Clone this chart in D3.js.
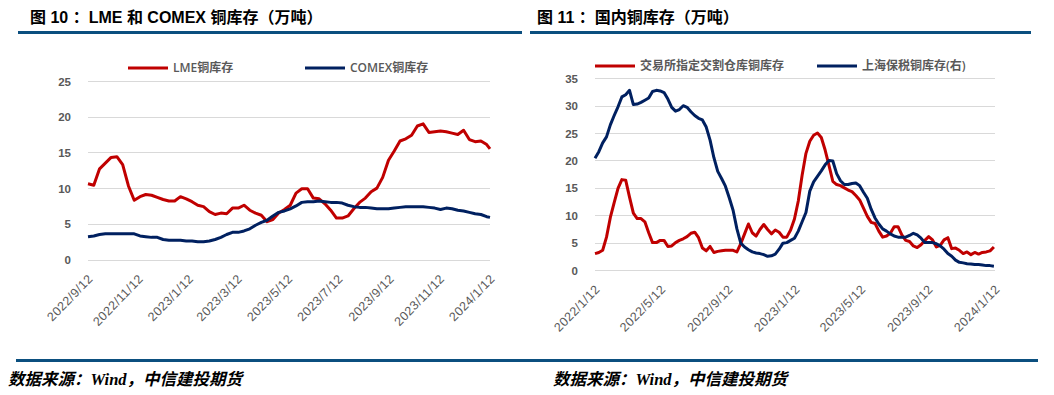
<!DOCTYPE html>
<html lang="zh-CN">
<head>
<meta charset="UTF-8">
<title>铜库存</title>
<script src="https://d3js.org/d3.v7.min.js"></script>
<style>
    body { margin: 0; background: #fff; }
    svg { display: block; font-family: "Open Sans", "Noto Sans CJK SC", sans-serif; }
    .title { font-family: "Liberation Sans", "Noto Sans CJK SC", sans-serif; font-weight: bold; font-size: 16px; fill: #000; }
    .axis text { fill: #595959; font-size: 11.5px; font-weight: 600; }
    .xaxis text { font-size: 12.5px; font-weight: 400; letter-spacing: 0.4px; }
    .legend text { fill: #595959; font-size: 12px; font-weight: 600; }
    .grid line { stroke: #d9d9d9; stroke-width: 1; }
    .source { font-family: "Liberation Serif", "Noto Sans CJK SC", serif; font-weight: bold; font-style: italic; font-size: 16.5px; fill: #000; }
</style>
</head>
<body>
<script>
    // 图10: LME / COMEX weekly
    const leftDates = [
        "2022-09-12","2022-09-19","2022-09-26","2022-10-03","2022-10-10","2022-10-17","2022-10-24","2022-10-31",
        "2022-11-07","2022-11-14","2022-11-21","2022-11-28","2022-12-05","2022-12-12","2022-12-19","2022-12-26",
        "2023-01-02","2023-01-09","2023-01-16","2023-01-23","2023-01-30","2023-02-06","2023-02-13","2023-02-20",
        "2023-02-27","2023-03-06","2023-03-13","2023-03-20","2023-03-27","2023-04-03","2023-04-10","2023-04-17",
        "2023-04-24","2023-05-01","2023-05-08","2023-05-15","2023-05-22","2023-05-29","2023-06-05","2023-06-12",
        "2023-06-19","2023-06-26","2023-07-03","2023-07-10","2023-07-17","2023-07-24","2023-07-31","2023-08-07",
        "2023-08-14","2023-08-21","2023-08-28","2023-09-04","2023-09-11","2023-09-18","2023-09-25","2023-10-02",
        "2023-10-09","2023-10-16","2023-10-23","2023-10-30","2023-11-06","2023-11-13","2023-11-20","2023-11-27",
        "2023-12-04","2023-12-11","2023-12-18","2023-12-25","2024-01-01","2024-01-08","2024-01-12"
    ];
    const lmeStocks = [
        10.6, 10.4, 12.7, 13.5, 14.3, 14.4, 13.3, 10.3,
        8.3, 8.8, 9.1, 9.0, 8.7, 8.4, 8.2, 8.2,
        8.8, 8.5, 8.1, 7.6, 7.4, 6.7, 6.3, 6.5,
        6.4, 7.2, 7.2, 7.6, 6.9, 6.5, 6.2, 5.3,
        5.6, 6.5, 7.0, 7.6, 9.3, 9.9, 9.9, 8.6,
        8.5, 7.8, 6.9, 5.8, 5.8, 6.1, 7.1, 8.0,
        8.6, 9.5, 10.0, 11.5, 13.9, 15.2, 16.6, 16.9,
        17.4, 18.7, 19.0, 17.8, 17.9, 18.0, 17.9, 17.7,
        17.5, 18.1, 16.8, 16.5, 16.6, 16.1, 15.5
    ];
    const comexStocks = [
        3.2, 3.3, 3.5, 3.6, 3.6, 3.6, 3.6, 3.6,
        3.6, 3.3, 3.2, 3.1, 3.1, 2.8, 2.7, 2.7,
        2.7, 2.6, 2.6, 2.5, 2.5, 2.6, 2.8, 3.1,
        3.5, 3.8, 3.8, 4.0, 4.3, 4.8, 5.2, 5.5,
        6.1, 6.6, 6.8, 7.1, 7.5, 8.0, 8.1, 8.1,
        8.2, 8.1, 8.0, 8.0, 7.9, 7.6, 7.4, 7.3,
        7.3, 7.2, 7.1, 7.1, 7.1, 7.2, 7.3, 7.4,
        7.4, 7.4, 7.4, 7.3, 7.2, 7.0, 7.2, 7.1,
        6.9, 6.8, 6.6, 6.4, 6.3, 6.0, 5.9
    ];
    const leftTicks = ["2022-09-12","2022-11-12","2023-01-12","2023-03-12","2023-05-12",
                       "2023-07-12","2023-09-12","2023-11-12","2024-01-12"];
    const leftYTicks = [0, 5, 10, 15, 20, 25];

    // 图11: 国内 weekly
    const rightDates = [
        "2022-01-12","2022-01-19","2022-01-26","2022-02-02","2022-02-09","2022-02-16","2022-02-23","2022-03-02",
        "2022-03-09","2022-03-16","2022-03-23","2022-03-30","2022-04-06","2022-04-13","2022-04-20","2022-04-27",
        "2022-05-04","2022-05-11","2022-05-18","2022-05-25","2022-06-01","2022-06-08","2022-06-15","2022-06-22",
        "2022-06-29","2022-07-06","2022-07-13","2022-07-20","2022-07-27","2022-08-03","2022-08-10","2022-08-17",
        "2022-08-24","2022-08-31","2022-09-07","2022-09-14","2022-09-21","2022-09-28","2022-10-05","2022-10-12",
        "2022-10-19","2022-10-26","2022-11-02","2022-11-09","2022-11-16","2022-11-23","2022-11-30","2022-12-07",
        "2022-12-14","2022-12-21","2022-12-28","2023-01-04","2023-01-11","2023-01-18","2023-01-25","2023-02-01",
        "2023-02-08","2023-02-15","2023-02-22","2023-03-01","2023-03-08","2023-03-15","2023-03-22","2023-03-29",
        "2023-04-05","2023-04-12","2023-04-19","2023-04-26","2023-05-03","2023-05-10","2023-05-17","2023-05-24",
        "2023-05-31","2023-06-07","2023-06-14","2023-06-21","2023-06-28","2023-07-05","2023-07-12","2023-07-19",
        "2023-07-26","2023-08-02","2023-08-09","2023-08-16","2023-08-23","2023-08-30","2023-09-06","2023-09-13",
        "2023-09-20","2023-09-27","2023-10-04","2023-10-11","2023-10-18","2023-10-25","2023-11-01","2023-11-08",
        "2023-11-15","2023-11-22","2023-11-29","2023-12-06","2023-12-13","2023-12-20","2023-12-27","2024-01-03",
        "2024-01-10"
    ];
    const exchangeStocks = [
        3.0, 3.2, 3.6, 6.0, 9.6, 12.3, 14.9, 16.5,
        16.4, 13.3, 10.4, 9.4, 9.4, 8.8, 6.8, 5.0,
        5.0, 5.4, 5.4, 4.3, 4.4, 5.0, 5.4, 5.7,
        6.1, 6.7, 6.9, 5.9, 4.0, 3.5, 4.3, 3.2,
        3.4, 3.5, 3.6, 3.6, 3.6, 3.3, 4.8, 6.6,
        8.4, 6.8, 6.2, 7.4, 8.3, 7.4, 6.6, 7.3,
        6.9, 6.0, 6.0, 7.3, 9.3, 12.6, 17.3, 21.3,
        23.5, 24.6, 25.0, 24.2, 21.9, 19.1, 16.2, 15.6,
        15.4, 15.0, 14.6, 14.3, 13.6, 12.8, 11.3, 9.8,
        8.7, 8.5, 7.1, 6.0, 6.2, 6.7, 7.9, 7.9,
        6.4, 5.4, 5.2, 4.4, 4.1, 4.6, 5.4, 6.1,
        5.5, 4.2, 4.5, 5.5, 5.9, 3.9, 4.0, 3.6,
        3.0, 3.3, 2.8, 3.2, 2.9, 3.2, 3.3, 3.5,
        4.2
    ];
    const bondedStocks = [
        20.4, 21.6, 23.2, 24.3, 26.5, 28.2, 29.8, 31.6,
        32.0, 32.8, 30.2, 30.3, 30.6, 31.0, 31.4, 32.6,
        32.8, 32.7, 32.4, 31.2, 29.7, 29.0, 29.3, 30.0,
        29.7, 28.9, 28.2, 27.7, 27.4, 26.1, 23.7, 20.5,
        18.0, 16.7, 15.3, 13.2, 10.9, 7.5, 4.9, 4.2,
        3.7, 3.3, 3.1, 3.0, 2.8, 2.5, 2.6, 2.9,
        3.8, 4.9, 5.0, 5.4, 5.8, 7.1, 8.8, 10.5,
        14.4, 16.1, 17.1, 18.1, 19.2, 20.0, 19.9, 17.6,
        16.3, 15.6, 15.6, 15.8, 15.9, 15.4, 14.2, 13.1,
        11.1, 9.5, 8.4, 7.5, 7.1, 6.6, 6.2, 6.0,
        6.0, 6.0, 6.3, 6.7, 6.4, 5.8, 5.0, 5.0,
        5.0, 4.8, 4.4, 3.8, 3.0, 2.5, 1.8, 1.4,
        1.3, 1.15, 1.1, 1.0, 1.0, 0.9, 0.8, 0.8,
        0.7
    ];
    const rightTicks = ["2022-01-12","2022-05-12","2022-09-12","2023-01-12",
                        "2023-05-12","2023-09-12","2024-01-12"];
    const rightYTicks = [0, 5, 10, 15, 20, 25, 30, 35];

    const RED = "#c00000", NAVY = "#002060", RULE = "#0b4f7f";
    const parse = d3.timeParse("%Y-%m-%d");
    const fmt = d3.timeFormat("%Y/%-m/%-d");

    const svg = d3.select("body").append("svg")
        .attr("width", 1054)
        .attr("height", 395);

    function drawChart(opt) {
        const g = svg.append("g");

        g.append("text").attr("class", "title")
            .attr("x", opt.titleX).attr("y", 23)
            .text(opt.title);
        g.append("line")
            .attr("x1", opt.ruleX[0]).attr("x2", opt.ruleX[1])
            .attr("y1", 32.5).attr("y2", 32.5)
            .attr("stroke", RULE).attr("stroke-width", 3);

        const x = d3.scaleTime()
            .domain([parse(opt.ticks[0]), parse(opt.ticks[opt.ticks.length - 1])])
            .range(opt.xRange);
        const y = d3.scaleLinear()
            .domain([0, opt.yTicks[opt.yTicks.length - 1]])
            .range(opt.yRange);

        // gridlines
        g.append("g").attr("class", "grid")
            .selectAll("line").data(opt.yTicks).join("line")
            .attr("x1", opt.xRange[0]).attr("x2", opt.xRange[1])
            .attr("y1", d => Math.round(y(d)) + 0.5).attr("y2", d => Math.round(y(d)) + 0.5);

        const yAxis = g.append("g").attr("class", "axis")
            .attr("transform", `translate(${opt.xRange[0] - 17},0)`)
            .call(d3.axisLeft(y).tickValues(opt.yTicks).tickSize(0).tickPadding(0));
        yAxis.select(".domain").remove();
        yAxis.selectAll("text").attr("dy", "0.35em");

        const xAxis = g.append("g").attr("class", "axis xaxis")
            .attr("transform", `translate(0,${opt.yRange[0]})`)
            .call(d3.axisBottom(x).tickValues(opt.ticks.map(parse)).tickFormat(fmt).tickSize(0));
        xAxis.select(".domain").remove();
        xAxis.selectAll("text")
            .attr("text-anchor", "end")
            .attr("dy", 0)
            .attr("y", 0)
            .attr("transform", "translate(5,20) rotate(-46)");

        const line = d3.line()
            .x(d => x(d[0]))
            .y(d => y(d[1]));

        opt.series.forEach(s => {
            const pts = s.values.map((v, i) => [parse(opt.dates[i]), v]);
            g.append("path")
                .datum(pts)
                .attr("fill", "none")
                .attr("stroke", s.color)
                .attr("stroke-width", 3)
                .attr("stroke-linejoin", "round")
                .attr("d", line);
        });

        // legend
        const lg = g.append("g").attr("class", "legend");
        opt.series.forEach(s => {
            lg.append("line")
                .attr("x1", s.legendX).attr("x2", s.legendX + 40)
                .attr("y1", opt.legendY).attr("y2", opt.legendY)
                .attr("stroke", s.color).attr("stroke-width", 3);
            lg.append("text")
                .attr("x", s.legendX + 45).attr("y", opt.legendY)
                .attr("dy", "0.35em")
                .text(s.name);
        });
    }

    drawChart({
        title: "图 10 ：LME 和 COMEX 铜库存（万吨）",
        titleX: 30,
        ruleX: [18, 522],
        xRange: [88, 490],
        yRange: [259.5, 81],
        ticks: leftTicks,
        yTicks: leftYTicks,
        dates: leftDates,
        legendY: 68,
        series: [
            { name: "LME铜库存", values: lmeStocks, color: RED, legendX: 128 },
            { name: "COMEX铜库存", values: comexStocks, color: NAVY, legendX: 305 }
        ]
    });

    drawChart({
        title: "图 11 ：国内铜库存（万吨）",
        titleX: 537,
        ruleX: [530, 1031],
        xRange: [595, 995],
        yRange: [270, 78.3],
        ticks: rightTicks,
        yTicks: rightYTicks,
        dates: rightDates,
        legendY: 66,
        series: [
            { name: "交易所指定交割仓库铜库存", values: exchangeStocks, color: RED, legendX: 595 },
            { name: "上海保税铜库存(右)", values: bondedStocks, color: NAVY, legendX: 817 }
        ]
    });

    // bottom rule and sources
    svg.append("line")
        .attr("x1", 16).attr("x2", 1038)
        .attr("y1", 360.5).attr("y2", 360.5)
        .attr("stroke", RULE).attr("stroke-width", 3);

    [8, 553].forEach(sx => {
        const t = svg.append("text").attr("class", "source")
            .attr("x", sx).attr("y", 385);
        t.append("tspan").text("数据来源：");
        t.append("tspan").text("Wind");
        t.append("tspan").text("，中信建投期货");
    });
</script>
</body>
</html>
